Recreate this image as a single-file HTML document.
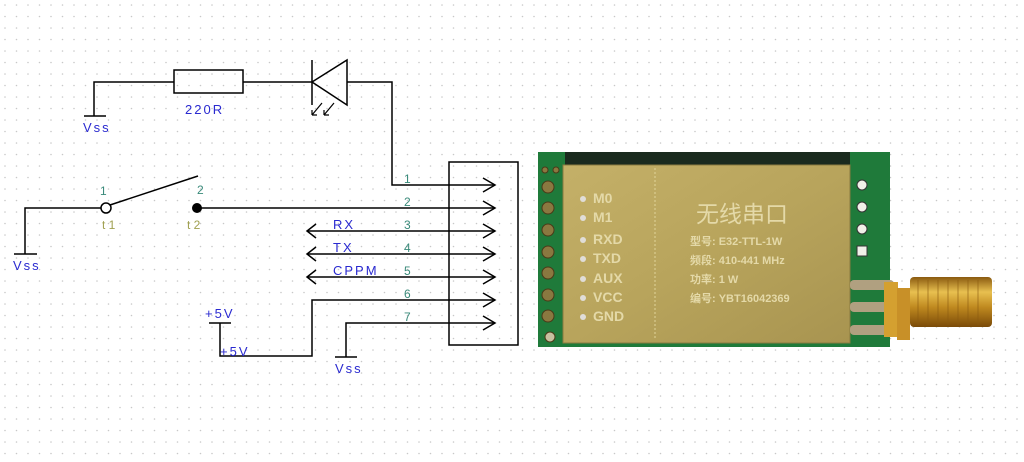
<!DOCTYPE html>
<html><head><meta charset="utf-8"><style>
html,body{margin:0;padding:0;background:#fff}
svg{display:block}
text{font-family:"Liberation Sans","Noto Sans CJK SC",sans-serif}
</style></head><body>
<svg width="1024" height="462" viewBox="0 0 1024 462" xmlns="http://www.w3.org/2000/svg">
<defs>
<pattern id="g" width="11.5" height="11.5" patternUnits="userSpaceOnUse"><circle cx="5" cy="5" r="0.8" fill="#c8c8c8"/></pattern>
<linearGradient id="gold" x1="0" y1="0" x2="1" y2="1"><stop offset="0" stop-color="#c4b068"/><stop offset="0.5" stop-color="#b8a45c"/><stop offset="1" stop-color="#a89450"/></linearGradient>
<linearGradient id="sma" x1="0" y1="0" x2="0" y2="1"><stop offset="0" stop-color="#8a5a10"/><stop offset="0.3" stop-color="#e8c050"/><stop offset="0.6" stop-color="#c08a20"/><stop offset="1" stop-color="#7a4a08"/></linearGradient>
</defs>
<rect width="1024" height="462" fill="url(#g)"/>
<g stroke="#000" stroke-width="1.5" fill="none">
<polyline points="94,116 94,82 174,82"/>
<line x1="84" y1="116" x2="106" y2="116"/>
<rect x="174" y="70" width="69" height="23"/>
<line x1="243" y1="82" x2="312" y2="82"/>
<line x1="312" y1="60" x2="312" y2="105"/>
<polygon points="312,82 347,60 347,105"/>
<polyline points="347,82 392,82 392,185 495,185"/>
<path d="M322,103 L312,115 M312,115 l0,-5 M312,115 l5,0 M334,103 L324,115 M324,115 l0,-5 M324,115 l5,0" stroke-width="1.2"/>
<polyline points="25,254 25,208 101,208"/>
<line x1="14" y1="254" x2="37" y2="254"/>
<circle cx="106" cy="208" r="5" fill="#fff"/>
<line x1="110" y1="205" x2="198" y2="176"/>
<line x1="197" y1="208" x2="495" y2="208"/>
<line x1="307" y1="231" x2="495" y2="231"/>
<line x1="307" y1="254" x2="495" y2="254"/>
<line x1="307" y1="277" x2="495" y2="277"/>
<path d="M316,224 L307,231 L316,238 M316,247 L307,254 L316,261 M316,270 L307,277 L316,284"/>
<polyline points="495,300 312,300 312,356 220,356 220,323"/>
<line x1="209" y1="323" x2="231" y2="323"/>
<polyline points="495,323 346,323 346,357"/>
<line x1="335" y1="357" x2="357" y2="357"/>
<rect x="449" y="162" width="69" height="183"/>
<path d="M483,178 L495,185 L483,192 M483,201 L495,208 L483,215 M483,224 L495,231 L483,238 M483,247 L495,254 L483,261 M483,270 L495,277 L483,284 M483,293 L495,300 L483,307 M483,316 L495,323 L483,330"/>
</g>
<circle cx="197" cy="208" r="5" fill="#000"/>
<g fill="#2a2ad0" font-size="13" letter-spacing="2">
<text x="83" y="132">Vss</text>
<text x="185" y="114">220R</text>
<text x="13" y="270">Vss</text>
<text x="333" y="229">RX</text>
<text x="333" y="252">TX</text>
<text x="333" y="275">CPPM</text>
<text x="205" y="318">+5V</text>
<text x="220" y="356">+5V</text>
<text x="335" y="373">Vss</text>
</g>
<g fill="#3a8a7a" font-size="12">
<text x="100" y="195">1</text><text x="197" y="194">2</text>
<text x="404" y="183">1</text><text x="404" y="206">2</text><text x="404" y="229">3</text><text x="404" y="252">4</text><text x="404" y="275">5</text><text x="404" y="298">6</text><text x="404" y="321">7</text>
</g>
<g fill="#a0a050" font-size="12"><text x="102" y="229">t 1</text><text x="187" y="229">t 2</text></g>
<rect x="538" y="152" width="352" height="195" fill="#1f7a3a"/>
<rect x="565" y="152" width="285" height="15" fill="#1a2a1e"/>
<rect x="563" y="165" width="287" height="178" fill="url(#gold)" stroke="#8a7a40"/>
<line x1="655" y1="168" x2="655" y2="340" stroke="#e0d49a" stroke-dasharray="2,2"/>
<g fill="#8a7840" stroke="#4a3a18">
<circle cx="545" cy="170" r="3"/><circle cx="556" cy="170" r="3"/>
<circle cx="548" cy="187" r="6"/><circle cx="548" cy="208" r="6"/><circle cx="548" cy="230" r="6"/><circle cx="548" cy="252" r="6"/><circle cx="548" cy="273" r="6"/><circle cx="548" cy="295" r="6"/><circle cx="548" cy="316" r="6"/><circle cx="550" cy="337" r="5" fill="#c8c0a0"/>
</g>
<g fill="#f0f0e8" stroke="#333"><circle cx="862" cy="185" r="5"/><circle cx="862" cy="207" r="5"/><circle cx="862" cy="229" r="5"/><rect x="857" y="246" width="10" height="10"/></g>
<g fill="#e4d9a8" font-size="14" font-weight="bold">
<text x="593" y="203">M0</text><text x="593" y="222">M1</text><text x="593" y="244">RXD</text><text x="593" y="263">TXD</text><text x="593" y="283">AUX</text><text x="593" y="302">VCC</text><text x="593" y="321">GND</text>
<text x="696" y="222" font-size="23" font-weight="normal">无线串口</text>
<text x="690" y="245" font-size="11">型号: E32-TTL-1W</text>
<text x="690" y="264" font-size="11">频段: 410-441 MHz</text>
<text x="690" y="283" font-size="11">功率: 1 W</text>
<text x="690" y="302" font-size="11">编号: YBT16042369</text>
</g>
<g fill="#e0ddd8"><circle cx="583" cy="199" r="3"/><circle cx="583" cy="218" r="3"/><circle cx="583" cy="240" r="3"/><circle cx="583" cy="259" r="3"/><circle cx="583" cy="279" r="3"/><circle cx="583" cy="298" r="3"/><circle cx="583" cy="317" r="3"/></g>
<rect x="850" y="280" width="44" height="10" rx="4" fill="#b0a080"/>
<rect x="850" y="302" width="44" height="10" rx="4" fill="#b0a080"/>
<rect x="850" y="325" width="44" height="10" rx="4" fill="#b0a080"/>
<rect x="884" y="282" width="14" height="55" fill="#d4a030"/>
<rect x="897" y="288" width="13" height="52" fill="#c89028"/>
<rect x="910" y="277" width="82" height="50" rx="4" fill="url(#sma)"/>
<g stroke="#8a5a10" stroke-width="1" opacity="0.6">
<line x1="918" y1="280" x2="918" y2="325"/><line x1="928" y1="280" x2="928" y2="325"/><line x1="938" y1="280" x2="938" y2="325"/><line x1="948" y1="280" x2="948" y2="325"/><line x1="958" y1="280" x2="958" y2="325"/><line x1="968" y1="280" x2="968" y2="325"/><line x1="978" y1="280" x2="978" y2="325"/>
</g>
</svg>
</body></html>
